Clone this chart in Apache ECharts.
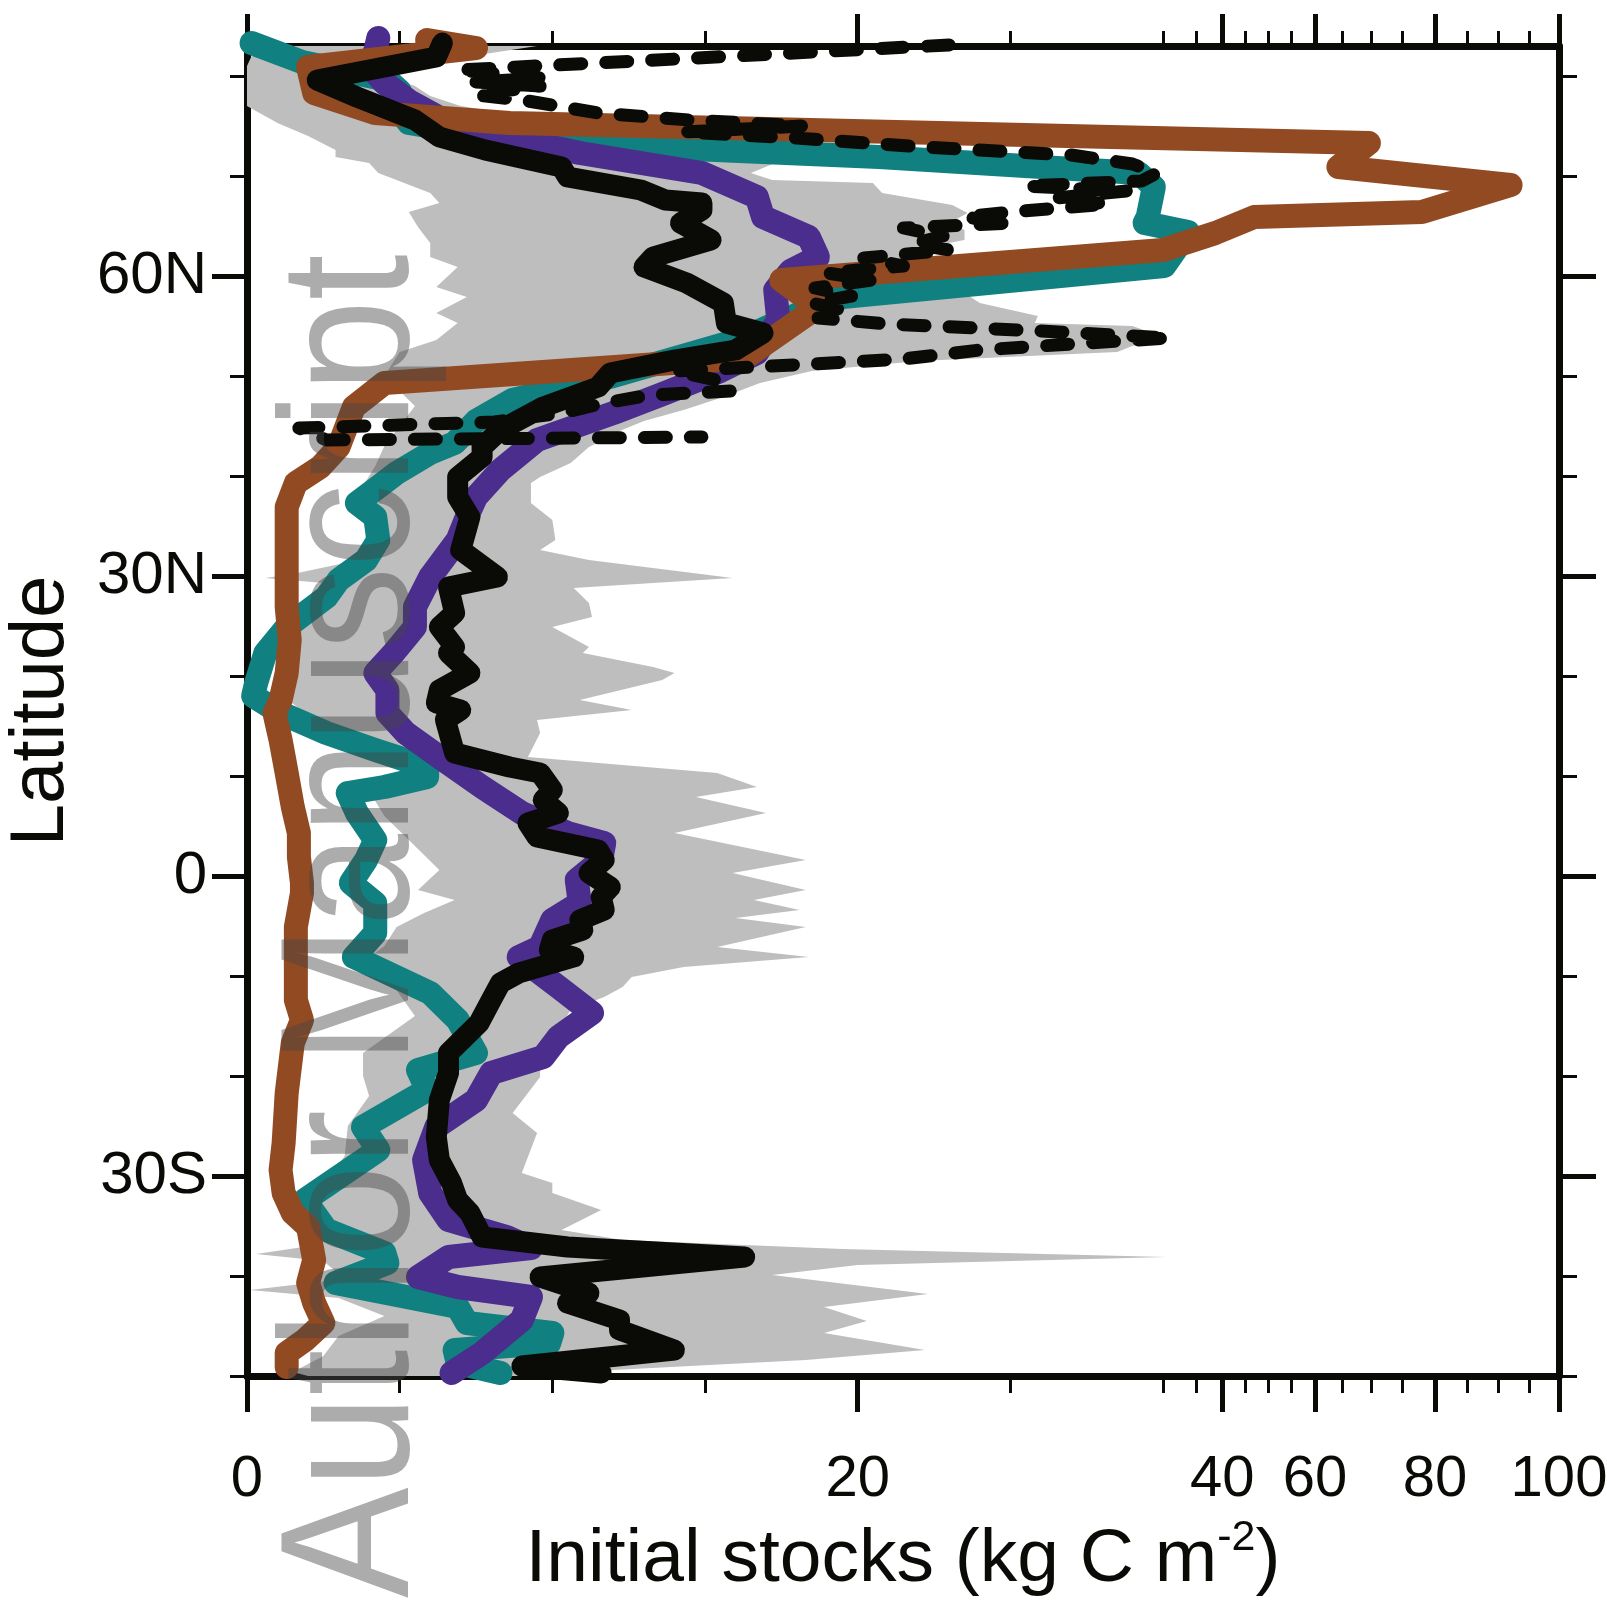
<!DOCTYPE html>
<html>
<head>
<meta charset="utf-8">
<title>Initial stocks by latitude</title>
<script src="https://cdn.jsdelivr.net/npm/echarts@6/dist/echarts.min.js"></script>
<style>
  html, body { margin: 0; padding: 0; background: #ffffff; }
  #chart { width: 1607px; height: 1606px; }
</style>
</head>
<body>
<div id="chart"></div>
<script>
// ---- Irregular stock axis: linear up to 30, stretched knots above ----
const KNOT_VALUE = [0, 30, 35, 40, 45, 50, 55, 60, 65, 70, 75, 80, 85, 90, 95, 100];
const KNOT_POS   = [0, 30, 31.08, 31.94, 32.69, 33.44, 34.20, 34.98, 35.87, 36.82, 37.83, 38.91, 39.96, 40.98, 41.99, 42.97];

// ---- Tick values ----
const stockTicksMajor = [0, 20, 40, 60, 80, 100];
const stockTicksMinor = [5, 10, 15, 25, 30, 35, 45, 50, 55, 65, 70, 75, 85, 90, 95];
const latTicksMajor = [-30, 0, 30, 60];
const latTicksMinor = [-50, -40, -20, -10, 10, 20, 40, 50, 70, 80];

// ---- Ensemble range (grey band): upper and lower envelopes ----
const greyHiLat = [83.0, 82.3, 81.0, 80.0, 79.0, 78.0, 77.0, 76.0, 75.0, 74.0, 73.0, 72.0, 71.3, 70.3, 69.6, 69.3, 68.3, 67.1, 66.3, 65.3, 64.6, 63.6, 62.9, 62.0, 61.0, 60.0, 59.0, 58.3, 57.3, 56.0, 55.3, 55.0, 53.8, 53.0, 52.4, 51.5, 50.5, 49.3, 47.9, 46.6, 45.5, 44.5, 43.5, 42.9, 41.3, 39.9, 39.3, 37.3, 35.6, 33.6, 32.6, 31.6, 29.8, 28.8, 27.3, 25.9, 24.9, 22.9, 22.3, 20.9, 20.3, 19.6, 17.6, 16.6, 15.6, 14.3, 11.9, 10.3, 8.9, 7.9, 6.3, 4.3, 1.6, 0.3, -1.4, -2.4, -3.4, -4.2, -5.1, -7.1, -8.1, -9.1, -10.1, -11.1, -12.1, -13.4, -16.4, -17.7, -20.1, -23.7, -25.7, -29.7, -30.7, -31.7, -33.4, -35.4, -36.4, -37.3, -38.1, -38.9, -39.9, -41.8, -43.1, -44.5, -45.7, -47.4, -48.4, -49.4, -50.0];
const greyHi    = [9.5, 8.0, 5.0, 4.5, 5.5, 6.0, 7.0, 9.0, 11.5, 13.5, 15.5, 17.0, 17.3, 16.5, 17.2, 20.5, 20.8, 23.1, 23.6, 23.0, 23.5, 23.5, 22.3, 22.0, 21.5, 21.5, 22.5, 23.5, 24.0, 25.9, 25.8, 29.0, 30.5, 29.0, 28.5, 22.0, 18.5, 16.8, 15.6, 14.3, 13.0, 12.2, 11.6, 11.2, 10.6, 9.6, 9.3, 9.3, 10.0, 10.1, 9.6, 11.2, 15.9, 10.7, 11.2, 11.3, 10.0, 11.2, 11.0, 13.3, 14.0, 13.6, 10.9, 12.6, 9.5, 9.6, 9.2, 15.4, 16.7, 14.7, 17.0, 14.0, 18.3, 15.9, 18.3, 16.6, 18.1, 16.0, 18.3, 15.4, 18.4, 14.3, 12.6, 12.3, 11.7, 10.6, 10.0, 9.6, 9.6, 8.7, 9.5, 9.0, 10.0, 10.0, 11.6, 10.3, 12.3, 19.5, 30.5, 20.0, 17.2, 22.3, 18.9, 20.3, 18.9, 22.2, 18.3, 12.0, 11.0];
const greyLoLat = [83.0, 81.0, 77.0, 75.3, 74.0, 72.6, 71.9, 71.3, 70.3, 68.3, 67.3, 66.4, 64.9, 63.3, 61.9, 60.9, 58.9, 57.9, 56.3, 55.3, 53.6, 52.4, 50.0, 47.0, 45.0, 43.0, 41.0, 39.0, 37.0, 35.0, 33.0, 31.3, 30.2, 29.8, 29.3, 27.5, 25.0, 22.5, 20.0, 18.0, 16.0, 14.0, 12.0, 10.0, 8.5, 6.0, 3.0, 0.6, -1.4, -2.4, -3.7, -5.1, -7.0, -9.0, -11.0, -14.0, -17.7, -20.0, -22.0, -25.0, -28.0, -31.0, -33.0, -35.0, -36.8, -37.8, -38.5, -40.3, -41.4, -42.2, -44.0, -46.0, -48.0, -49.6, -50.0];
const greyLo    = [0.3, 0.0, 0.0, 1.0, 2.0, 2.9, 2.9, 4.0, 4.3, 6.0, 6.3, 5.3, 5.6, 6.0, 6.0, 6.9, 6.2, 7.2, 6.2, 6.9, 6.2, 5.0, 4.5, 5.5, 5.0, 4.5, 4.2, 3.8, 3.6, 4.0, 4.0, 3.2, 1.5, 0.6, 2.5, 2.6, 1.8, 1.0, 1.0, 1.2, 2.0, 3.0, 4.6, 5.5, 4.0, 4.5, 5.5, 6.3, 5.6, 6.8, 5.8, 4.9, 4.5, 3.6, 4.8, 5.5, 3.8, 3.8, 4.0, 3.3, 3.2, 2.5, 1.8, 2.5, 2.5, 0.3, 2.5, 3.2, 0.1, 3.0, 4.5, 3.0, 2.5, 1.5, 2.0];

// ---- Teal dataset ----
const tealLat = [83.3, 81.4, 79.6, 78.5, 76.5, 75.3, 74.0, 73.3, 71.9, 70.3, 68.9, 65.9, 65.3, 64.4, 61.0, 57.9, 55.5, 53.7, 50.0, 47.6, 45.5, 43.3, 42.3, 40.3, 38.9, 37.3, 35.9, 33.6, 31.6, 29.6, 27.9, 24.9, 22.3, 19.3, 18.0, 16.3, 14.3, 12.6, 10.9, 9.9, 8.9, 8.3, 6.3, 3.6, 1.6, -0.7, -2.7, -5.7, -8.1, -11.7, -14.4, -17.7, -19.4, -21.4, -25.1, -27.4, -32.4, -35.4, -37.7, -38.7, -40.7, -43.1, -44.7, -45.7, -46.7, -47.4, -48.7, -49.7];
const tealVal = [0.15, 1.8, 4.6, 5.0, 5.0, 5.3, 7.8, 10.0, 20.7, 29.2, 29.7, 29.5, 29.4, 33.8, 30.2, 19.5, 17.5, 16.2, 12.0, 8.7, 7.5, 6.8, 6.0, 4.9, 4.3, 3.6, 4.2, 4.3, 3.9, 3.0, 2.6, 1.3, 0.6, 0.3, 0.2, 1.1, 2.6, 4.2, 5.9, 5.9, 4.5, 3.3, 3.6, 4.2, 3.9, 3.4, 4.2, 4.2, 3.5, 6.0, 6.9, 7.5, 5.6, 5.9, 3.8, 4.3, 1.9, 2.6, 4.5, 4.6, 2.9, 6.9, 7.2, 10.0, 9.9, 6.8, 6.9, 8.3];

// ---- Purple dataset ----
const purpleLat = [83.8, 82.5, 81.0, 79.3, 77.5, 75.5, 73.8, 72.3, 70.3, 67.9, 65.9, 63.9, 61.9, 60.5, 58.6, 55.6, 52.3, 50.5, 48.3, 46.3, 43.6, 40.6, 37.9, 35.9, 33.6, 29.9, 26.9, 24.9, 22.3, 20.3, 18.6, 16.3, 14.3, 11.9, 8.9, 6.3, 4.3, 3.3, 1.6, -0.4, -2.7, -4.4, -7.1, -8.1, -11.1, -13.7, -16.1, -18.1, -19.7, -22.4, -25.1, -28.4, -31.7, -34.4, -36.1, -37.2, -38.1, -40.1, -41.1, -42.1, -44.4, -47.7, -49.7];
const purpleVal = [4.3, 4.2, 4.0, 4.5, 5.3, 6.5, 8.6, 10.9, 14.9, 16.7, 16.9, 18.4, 18.7, 17.8, 17.3, 17.4, 16.7, 15.5, 13.7, 12.0, 9.5, 8.3, 7.5, 7.2, 6.9, 6.0, 5.5, 5.5, 4.8, 4.2, 4.6, 4.6, 5.2, 6.3, 7.7, 9.0, 10.5, 11.7, 11.6, 10.8, 10.9, 10.0, 9.6, 8.9, 10.2, 11.3, 10.2, 9.7, 8.0, 7.5, 6.2, 5.8, 6.0, 6.6, 8.5, 9.3, 6.6, 5.6, 6.9, 9.3, 9.0, 7.7, 6.7];

// ---- Brown dataset ----
const brownLat = [83.6, 82.8, 80.9, 78.3, 76.3, 75.3, 73.3, 70.9, 69.1, 66.4, 65.9, 64.3, 62.6, 59.6, 56.9, 51.8, 49.3, 46.9, 42.9, 40.9, 39.3, 36.9, 33.6, 30.3, 26.9, 23.6, 20.3, 17.6, 16.3, 13.6, 10.3, 6.9, 4.3, 1.9, -0.7, -1.7, -5.1, -9.4, -12.4, -14.4, -16.7, -21.7, -26.7, -29.4, -31.7, -33.7, -35.1, -38.4, -40.7, -42.7, -44.7, -46.4, -47.7, -49.1];
const brownVal = [5.9, 7.5, 2.0, 2.2, 4.2, 8.6, 69.6, 64.3, 92.0, 78.0, 47.0, 38.7, 30.0, 17.5, 18.7, 16.3, 4.5, 3.5, 3.0, 2.4, 1.6, 1.3, 1.3, 1.3, 1.3, 1.4, 1.3, 1.1, 0.9, 1.1, 1.3, 1.5, 1.7, 1.7, 1.8, 1.8, 1.6, 1.6, 1.6, 1.8, 1.5, 1.3, 1.2, 1.1, 1.2, 1.5, 2.0, 2.2, 2.0, 2.2, 2.5, 1.9, 1.3, 1.3];

// ---- Black dataset (solid) ----
const blackLat = [83.3, 81.9, 79.6, 77.9, 75.6, 73.9, 72.6, 70.9, 69.9, 68.6, 67.6, 67.3, 66.6, 65.3, 63.6, 61.9, 60.9, 59.3, 57.3, 55.3, 54.3, 52.6, 51.6, 50.3, 48.9, 46.9, 44.6, 42.9, 41.9, 39.9, 37.9, 35.9, 32.6, 29.9, 28.9, 26.3, 24.9, 22.9, 22.3, 20.3, 18.6, 17.3, 16.6, 15.6, 12.3, 10.9, 10.3, 8.6, 7.6, 6.3, 5.3, 3.9, 2.6, 1.6, 0.3, -1.1, -2.1, -3.4, -4.4, -5.4, -6.4, -7.4, -8.1, -9.7, -10.7, -12.4, -14.7, -17.7, -19.7, -22.4, -26.1, -28.4, -30.7, -32.4, -33.7, -36.1, -37.1, -38.1, -40.1, -41.7, -42.7, -44.4, -45.4, -47.4, -49.0, -49.7];
const blackVal = [6.4, 6.2, 2.3, 3.6, 5.5, 6.3, 7.8, 10.3, 10.5, 12.9, 13.7, 14.9, 14.9, 14.2, 15.2, 13.3, 13.0, 14.4, 15.6, 15.7, 16.9, 16.0, 14.0, 11.9, 11.5, 9.7, 8.3, 7.7, 7.7, 6.9, 6.9, 7.3, 7.0, 8.2, 6.6, 6.8, 6.3, 6.8, 6.6, 7.3, 6.3, 6.2, 7.0, 6.5, 6.8, 8.6, 9.6, 10.0, 9.7, 10.2, 9.2, 9.5, 11.5, 11.7, 11.2, 11.9, 11.6, 11.7, 10.9, 11.0, 10.0, 9.9, 10.7, 8.9, 8.3, 8.0, 7.6, 6.6, 6.6, 6.3, 6.2, 6.3, 6.7, 6.9, 7.3, 7.7, 10.5, 16.3, 9.6, 11.2, 10.5, 12.2, 12.2, 14.0, 9.0, 11.6];

// ---- Black dataset (dashed, northern lands) ----
const dashLat = [83.1, 82.0, 80.6, 79.8, 79.4, 79.0, 78.1, 77.6, 76.3, 75.6, 75.0, 74.4, 73.8, 72.9, 72.1, 71.2, 70.3, 69.5, 69.0, 68.5, 67.8, 67.2, 66.4, 65.9, 65.3, 64.8, 64.0, 63.2, 62.6, 61.8, 61.0, 60.3, 59.6, 58.8, 58.0, 57.3, 56.6, 55.8, 55.2, 54.5, 53.8, 53.2, 52.6, 51.7, 51.2, 50.5, 49.5, 48.5, 48.1, 47.3, 46.3, 45.4, 44.8, 43.6, 43.9];
const dashVal = [23.0, 16.0, 6.9, 9.7, 7.5, 9.6, 7.5, 9.0, 11.5, 14.5, 18.2, 14.3, 18.0, 22.1, 27.0, 29.0, 29.8, 29.3, 25.5, 28.8, 26.5, 28.2, 25.0, 23.5, 25.0, 21.5, 22.8, 21.8, 23.0, 20.2, 21.5, 19.0, 20.5, 18.6, 19.8, 18.5, 19.5, 18.7, 21.0, 26.0, 31.0, 27.0, 24.0, 21.5, 18.5, 14.0, 15.5, 15.9, 13.2, 11.7, 10.3, 8.1, 1.7, 2.6, 14.9];

// ---- Scale helpers ----
function toAxis(v) {
  for (let i = 0; i < KNOT_VALUE.length - 1; i++) {
    if (v <= KNOT_VALUE[i + 1]) {
      const t = (v - KNOT_VALUE[i]) / (KNOT_VALUE[i + 1] - KNOT_VALUE[i]);
      return KNOT_POS[i] + t * (KNOT_POS[i + 1] - KNOT_POS[i]);
    }
  }
  return KNOT_POS[KNOT_POS.length - 1];
}
function pairs(lats, vals) {
  return lats.map((lat, i) => [toAxis(vals[i]), lat]);
}
const AXIS_MAX = toAxis(100);
const majorStockPos = stockTicksMajor.map(toAxis);
const minorStockPos = stockTicksMinor.map(toAxis);

const FONT = '"Liberation Sans", Arial, Helvetica, sans-serif';
const INK = '#0a0a06';

function stockLabel(u) {
  const i = majorStockPos.findIndex(p => Math.abs(p - u) < 1e-6);
  return i >= 0 ? String(stockTicksMajor[i]) : '';
}
function latLabel(v) {
  if (v === 0) return '0';
  return v > 0 ? v + 'N' : (-v) + 'S';
}

function xAxisDef(position, ticks, len, width, withLine, withLabels) {
  return {
    type: 'value', position: position, min: 0, max: AXIS_MAX,
    axisLine: { show: withLine, onZero: false, lineStyle: { color: INK, width: 7 } },
    axisTick: { show: true, inside: false, customValues: ticks, length: len, lineStyle: { color: INK, width: width } },
    axisLabel: withLabels ? {
      show: true, customValues: ticks, formatter: stockLabel, margin: 75,
      fontSize: 58, fontFamily: FONT, color: INK
    } : { show: false },
    splitLine: { show: false }
  };
}
function yAxisDef(position, ticks, len, width, withLine, withLabels) {
  return {
    type: 'value', position: position, min: -50, max: 83,
    axisLine: { show: withLine, onZero: false, lineStyle: { color: INK, width: 7 } },
    axisTick: { show: true, inside: false, customValues: ticks, length: len, lineStyle: { color: INK, width: width } },
    axisLabel: withLabels ? {
      show: true, customValues: ticks, formatter: latLabel, margin: 40,
      fontSize: 60, fontFamily: FONT, color: INK
    } : { show: false },
    splitLine: { show: false }
  };
}

const xBottom = xAxisDef('bottom', majorStockPos, 36, 5, true, true);
xBottom.name = 'Initial stocks (kg C m{sup|-2})';
xBottom.nameLocation = 'middle';
xBottom.nameGap = 141;
xBottom.nameTextStyle = {
  fontSize: 75, fontFamily: FONT, color: INK, lineHeight: 86,
  rich: { sup: { fontSize: 43, fontFamily: FONT, color: INK, verticalAlign: 'top', lineHeight: 86 } }
};

const yLeft = yAxisDef('left', latTicksMajor, 35, 5, true, true);
yLeft.name = 'Latitude';
yLeft.nameLocation = 'middle';
yLeft.nameRotate = 90;
yLeft.nameGap = 167;
yLeft.nameTextStyle = { fontSize: 76, fontFamily: FONT, color: INK };

function lineSeries(name, lats, vals, color, width, z, dashed) {
  return {
    type: 'line', name: name, data: pairs(lats, vals),
    xAxisIndex: 0, yAxisIndex: 0,
    showSymbol: false, symbol: 'none', clip: false, silent: true, z: z,
    lineStyle: {
      color: color, width: width, cap: 'round', join: 'round',
      type: dashed ? [22, 24] : 'solid'
    },
    emphasis: { disabled: true }
  };
}

const option = {
  animation: false,
  backgroundColor: '#ffffff',
  grid: { left: 247, right: 48, top: 46, bottom: 230, containLabel: false, outerBoundsMode: 'none' },
  xAxis: [
    xBottom,
    xAxisDef('bottom', minorStockPos, 17, 3, false, false),
    xAxisDef('top', majorStockPos, 32, 5, true, false),
    xAxisDef('top', minorStockPos, 15, 3, false, false)
  ],
  yAxis: [
    yLeft,
    yAxisDef('left', latTicksMinor, 17, 3, false, false),
    yAxisDef('right', latTicksMajor, 37, 5, true, false),
    yAxisDef('right', latTicksMinor, 18, 3, false, false)
  ],
  series: [
    {
      type: 'custom', name: 'ensemble range', xAxisIndex: 0, yAxisIndex: 0,
      silent: true, z: 1, clip: true,
      data: [[0, 0]],
      renderItem: function (params, api) {
        const pts = [];
        for (let i = 0; i < greyHiLat.length; i++) pts.push(api.coord([toAxis(greyHi[i]), greyHiLat[i]]));
        for (let i = greyLoLat.length - 1; i >= 0; i--) pts.push(api.coord([toAxis(greyLo[i]), greyLoLat[i]]));
        return { type: 'polygon', shape: { points: pts }, style: { fill: '#bebebe', stroke: null } };
      }
    },
    lineSeries('teal', tealLat, tealVal, '#108080', 24, 2, false),
    lineSeries('purple', purpleLat, purpleVal, '#4a2d8c', 24, 3, false),
    lineSeries('brown', brownLat, brownVal, '#924a22', 24, 4, false),
    lineSeries('black', blackLat, blackVal, INK, 21, 5, false),
    lineSeries('black dashed', dashLat, dashVal, INK, 13, 6, true)
  ],
  graphic: [{
    type: 'text', z: 100, silent: true,
    x: 449, y: 1598, rotation: Math.PI / 2, scaleX: 0.9,
    style: {
      text: 'Author Manuscript', fontSize: 184, fontFamily: FONT,
      fill: 'rgba(70,70,70,0.45)', align: 'left', verticalAlign: 'bottom'
    }
  }]
};

const chart = echarts.init(document.getElementById('chart'), null, { renderer: 'canvas' });
chart.setOption(option);
</script>
</body>
</html>
